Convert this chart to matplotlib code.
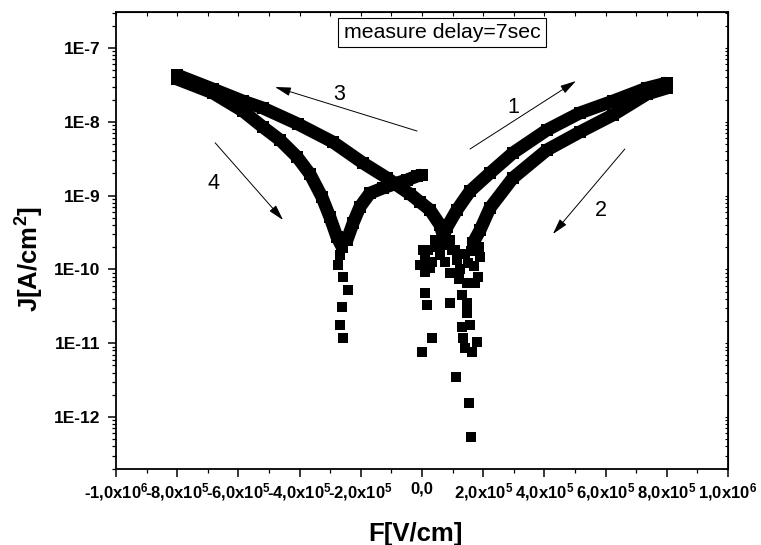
import matplotlib
matplotlib.use('Agg')
import matplotlib.pyplot as plt
from matplotlib.ticker import FixedLocator, FixedFormatter, MultipleLocator, LogLocator, NullFormatter

plt.rcParams['font.family'] = ['Liberation Sans', 'DejaVu Sans']
plt.rcParams['mathtext.fontset'] = 'custom'
plt.rcParams['mathtext.rm'] = 'Liberation Sans:bold'
plt.rcParams['mathtext.bf'] = 'Liberation Sans:bold'
plt.rcParams['mathtext.it'] = 'Liberation Sans:bold'
plt.rcParams['mathtext.default'] = 'bf'

# ---------------- data (F in V/cm, J in A/cm^2) ----------------
# sweep 3: upper-left branch (0 -> -8e5)
upper_left_F = [6.9e4, 5.9e4, 2.6e4, -6.5e3, -3.9e4, -8.2e4, -1.14e5, -1.93e5,
                -2.91e5, -4.05e5, -5.20e5, -5.85e5, -6.83e5, -8.0e5]
upper_left_J = [2.92e-10, 4.0e-10, 6.4e-10, 8.2e-10, 1.05e-9, 1.39e-9, 1.73e-9, 2.77e-9,
                5.32e-9, 9.33e-9, 1.54e-8, 1.91e-8, 2.78e-8, 4.3e-8]

# sweep 4: lower-left branch (-8e5 -> dip)
lower_left_F = [-8.0e5, -6.83e5, -5.85e5, -5.20e5, -4.64e5, -4.08e5, -3.66e5,
                -3.27e5, -3.01e5, -2.78e5, -2.61e5]
lower_left_J = [3.8e-8, 2.46e-8, 1.40e-8, 8.51e-9, 5.67e-9, 3.34e-9, 1.96e-9,
                9.57e-10, 5.13e-10, 2.75e-10, 2.01e-10]

# scattered points at the left minimum
left_dip_F = [-2.68e5, -2.75e5, -2.58e5, -2.42e5, -2.61e5, -2.68e5, -2.58e5]
left_dip_J = [1.57e-10, 1.15e-10, 7.9e-11, 5.3e-11, 3.1e-11, 1.77e-11, 1.18e-11]

# sweep 4 continued: rising from the left minimum towards 0
rising_left_F = [-2.45e5, -2.25e5, -2.03e5, -1.70e5, -1.27e5, -8.2e4, -4.9e4, -1.6e4, 0.0]
rising_left_J = [2.5e-10, 4.26e-10, 7.01e-10, 1.08e-9, 1.27e-9, 1.48e-9, 1.63e-9, 1.84e-9, 1.90e-9]

# sweep 1: upper-right branch (0 -> 8e5)
upper_right_F = [6.9e4, 8.2e4, 1.14e5, 1.57e5, 2.22e5, 2.97e5, 4.08e5, 5.16e5,
                 6.24e5, 7.35e5, 8.0e5]
upper_right_J = [2.75e-10, 3.76e-10, 6.38e-10, 1.15e-9, 2.02e-9, 3.78e-9, 7.74e-9, 1.32e-8,
                 1.91e-8, 2.87e-8, 3.36e-8]

# sweep 2: lower-right branch (8e5 -> 0)
lower_right_F = [8.0e5, 7.35e5, 6.24e5, 5.16e5, 4.08e5, 2.97e5, 2.22e5, 1.90e5, 1.67e5]
lower_right_J = [2.87e-8, 2.38e-8, 1.24e-8, 7.28e-9, 4.15e-9, 1.73e-9, 6.79e-10, 3.42e-10, 2.28e-10]

# scattered points around the central minima
center_F = [4.2e4, 7.5e4, 9.8e4, 5.9e4, 2.0e4, 3e3, -6.5e3, 9.8e3, 2.6e4, 9.8e3, 1.6e4,
            3.3e4, 0.0, 1.11e5, 1.54e5, 1.60e5, 9.2e4, 9.2e4, 1.31e5, 1.47e5, 1.31e5,
            1.57e5, 1.34e5, 1.80e5, 1.41e5, 1.63e5, 1.83e5, 1.73e5, 1.47e5, 1.90e5,
            1.50e5, 1.14e5, 1.47e5, 5.2e4, 9.2e4, 1.08e5, 7.5e4, 3.3e4, 1.0e4, 1.24e5,
            1.60e5, 1.70e5, 1.86e5, 1.40e5, 1.20e5]
center_J = [2.5e-10, 2.14e-10, 1.83e-10, 1.57e-10, 1.83e-10, 1.83e-10, 1.15e-10, 9.2e-11,
            1.04e-10, 4.8e-11, 3.3e-11, 1.18e-11, 7.6e-12, 3.5e-12, 1.55e-12, 5.4e-13,
            3.5e-11, 8.9e-11, 4.5e-11, 2.6e-11, 1.66e-11, 1.77e-11, 1.18e-11, 1.04e-11,
            8.6e-12, 7.6e-12, 7.9e-11, 6.5e-11, 6.5e-11, 1.47e-10, 1.22e-10, 1.34e-10, 3.5e-11,
            2.01e-10, 2.5e-10, 1.83e-10, 1.26e-10, 1.26e-10, 1.4e-10, 1.0e-10,
            1.8e-10, 1.1e-10, 2.0e-10, 1.6e-10, 7.5e-11]

# sweep-direction arrows: (tail F, tail J, head F, head J) and their labels
arrow_labels = ['1', '2', '3', '4']
arrow_tail_F = [1.57e5, 6.63e5, -1.6e4, -6.76e5]
arrow_tail_J = [4.28e-9, 4.28e-9, 7.5e-9, 5.2e-9]
arrow_head_F = [5.03e5, 4.28e5, -4.8e5, -4.54e5]
arrow_head_J = [3.57e-8, 3.02e-10, 2.96e-8, 4.67e-10]
label_F = [3.0e5, 5.85e5, -2.71e5, -6.8e5]
label_J = [1.54e-8, 6.38e-10, 2.38e-8, 1.44e-9]

x_ticks = [-1.0e6, -8.0e5, -6.0e5, -4.0e5, -2.0e5, 0.0, 2.0e5, 4.0e5, 6.0e5, 8.0e5, 1.0e6]
x_tick_labels = ['-1,0x10$^{6}$', '-8,0x10$^{5}$', '-6,0x10$^{5}$', '-4,0x10$^{5}$',
                 '-2,0x10$^{5}$', '0,0', '2,0x10$^{5}$', '4,0x10$^{5}$', '6,0x10$^{5}$',
                 '8,0x10$^{5}$', '1,0x10$^{6}$']
y_ticks = [1e-12, 1e-11, 1e-10, 1e-9, 1e-8, 1e-7]
y_tick_labels = ['1E-12', '1E-11', '1E-10', '1E-9', '1E-8', '1E-7']

# ---------------- figure ----------------
fig = plt.figure(figsize=(7.61, 5.45), dpi=100)
ax = fig.add_axes([0.1524, 0.1394, 0.8042, 0.8386])
ax.set_yscale('log')
ax.set_xlim(-1.0e6, 1.0e6)
ax.set_ylim(1.97e-13, 3.08e-7)

band = dict(color='k', lw=9.3, solid_joinstyle='round', solid_capstyle='butt',
            marker='s', ms=8, mew=0, zorder=3)
dots = dict(color='k', ls='none', marker='s', ms=7, mew=0, zorder=3)

ax.plot(upper_left_F, upper_left_J, **band)
ax.plot(lower_left_F, lower_left_J, **band)
ax.plot(rising_left_F, rising_left_J, **band)
ax.plot(upper_right_F, upper_right_J, **band)
ax.plot(lower_right_F, lower_right_J, **band)
ax.plot(left_dip_F, left_dip_J, **dots)
ax.plot(center_F, center_J, **dots)

for lab, tf, tj, hf, hj, lf, lj in zip(arrow_labels, arrow_tail_F, arrow_tail_J,
                                       arrow_head_F, arrow_head_J, label_F, label_J):
    ax.annotate('', xy=(hf, hj), xytext=(tf, tj),
                arrowprops=dict(arrowstyle='-|>,head_length=0.8,head_width=0.22',
                                lw=0.7, color='k', mutation_scale=12,
                                shrinkA=0, shrinkB=0))
    ax.text(lf, lj, lab, fontsize=15.5, ha='center', va='center')

ax.text(0.533, 0.955, 'measure delay=7sec', transform=ax.transAxes, ha='center',
        va='center', fontsize=15.3,
        bbox=dict(boxstyle='square,pad=0.25', fc='white', ec='k', lw=0.8))

# ticks
ax.xaxis.set_major_locator(FixedLocator(x_ticks))
ax.xaxis.set_major_formatter(FixedFormatter(x_tick_labels))
ax.xaxis.set_minor_locator(MultipleLocator(1e5))
ax.yaxis.set_major_locator(FixedLocator(y_ticks))
ax.yaxis.set_major_formatter(FixedFormatter(y_tick_labels))
ax.yaxis.set_minor_locator(LogLocator(base=10, subs=[2, 3, 4, 5, 6, 7, 8, 9], numticks=100))
ax.yaxis.set_minor_formatter(NullFormatter())

ax.tick_params(which='major', direction='out', length=6, width=1.1, labelsize=12)
ax.tick_params(axis='x', which='major', pad=3)
ax.tick_params(axis='y', which='major', pad=5.5, labelsize=12.5)
ax.tick_params(which='minor', direction='out', length=3, width=0.9)
for lbl in ax.get_xticklabels() + ax.get_yticklabels():
    lbl.set_fontweight('bold')

# mirrored inward ticks on top and right
axt = ax.secondary_xaxis('top')
axt.set_xticks(x_ticks)
axt.xaxis.set_minor_locator(MultipleLocator(1e5))
axt.tick_params(which='both', direction='in', length=3, width=0.8, labeltop=False)
axr = ax.secondary_yaxis('right')
axr.set_yticks(y_ticks)
axr.yaxis.set_minor_locator(LogLocator(base=10, subs=[2, 3, 4, 5, 6, 7, 8, 9], numticks=100))
axr.yaxis.set_minor_formatter(NullFormatter())
axr.tick_params(which='both', direction='in', length=2, width=0.8, labelright=False)

for sp in ax.spines.values():
    sp.set_linewidth(1.3)

ax.set_xlabel('F[V/cm]', fontsize=18.5, fontweight='bold', va='center')
ax.set_ylabel('J[A/cm$^{2}$]', fontsize=18.5, fontweight='bold', va='center')
ax.xaxis.set_label_coords(0.49, -0.142)
ax.yaxis.set_label_coords(-0.14, 0.46)

fig.savefig('out.png', dpi=100)
